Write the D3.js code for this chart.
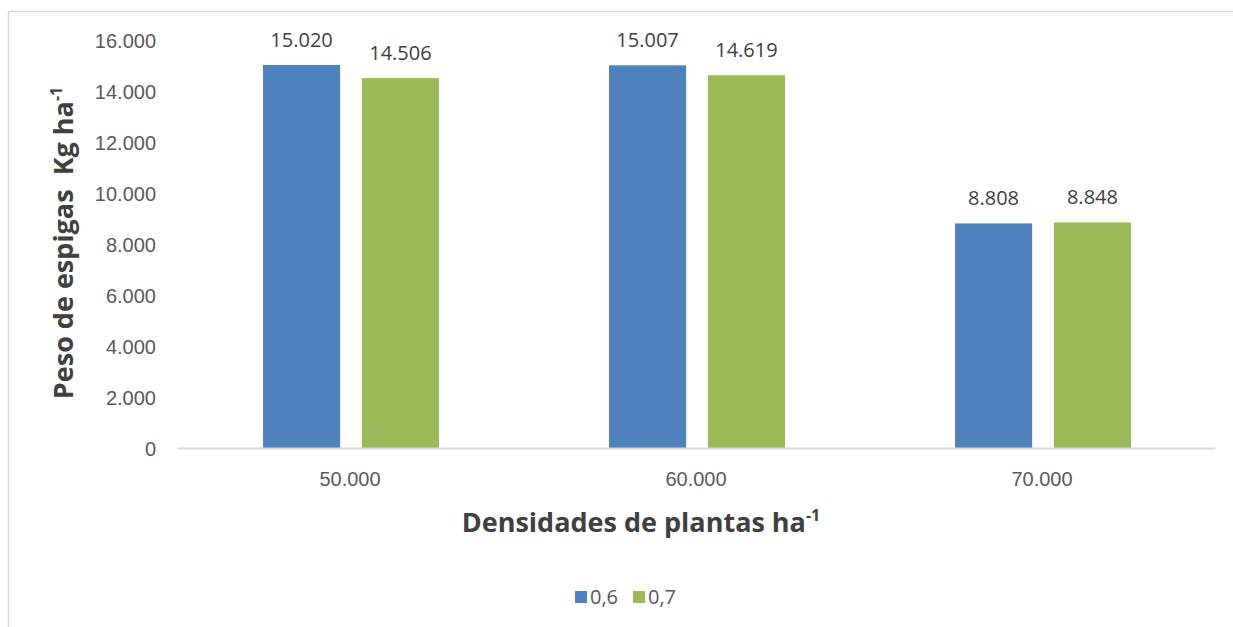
<!DOCTYPE html>
<html>
<head>
<meta charset="utf-8">
<script src="https://cdn.jsdelivr.net/npm/d3@7"></script>
<style>
  html, body { margin: 0; padding: 0; background: #fff; }
  svg { display: block; font-family: "Open Sans", "Noto Sans", sans-serif; }
</style>
</head>
<body>
<svg id="chart" width="1233" height="627"></svg>
<script>
// Plant densities (x categories) and spacing series
const categories = ["50.000", "60.000", "70.000"];
const seriesNames = ["0,6", "0,7"];
const values06 = [15020, 15007, 8808];
const values07 = [14506, 14619, 8848];
const yTicks = [0, 2000, 4000, 6000, 8000, 10000, 12000, 14000, 16000];
const colors = ["#4F81BD", "#9BBB59"];

const seriesValues = [values06, values07];
const rows = categories.map((c, i) => ({
  cat: c,
  vals: seriesNames.map((s, j) => ({ key: s, value: seriesValues[j][i], color: colors[j] }))
}));

const locale = d3.formatLocale({ decimal: ",", thousands: ".", grouping: [3], currency: ["", ""] });
const fmt = locale.format(",d");

const svg = d3.select("#chart");

// outer frame
svg.append("rect")
  .attr("x", 8.5).attr("y", 11.5)
  .attr("width", 1240).attr("height", 640)
  .attr("fill", "none").attr("stroke", "#d9d9d9").attr("stroke-width", 1.5);

const plot = { left: 177, right: 1215, top: 40, bottom: 448 };

const x0 = d3.scaleBand().domain(categories).range([plot.left, plot.right]).padding(0);
const x1 = d3.scaleBand().domain(seriesNames)
  .range([86, x0.bandwidth() - 84]).paddingInner(0.22).paddingOuter(0);
const y = d3.scaleLinear().domain([0, 16000]).range([plot.bottom, plot.top]);

// y tick labels
const yAxis = d3.axisLeft(y).tickValues(yTicks).tickFormat(d => fmt(d)).tickSize(0).tickPadding(0);
const gy = svg.append("g").attr("transform", `translate(156,0)`).call(yAxis);
gy.select(".domain").remove();
gy.selectAll("text")
  .attr("fill", "#595959").attr("font-size", 20).attr("dy", "0.35em");

// bars
const groups = svg.append("g").selectAll("g").data(rows).join("g")
  .attr("transform", d => `translate(${x0(d.cat)},0)`);

groups.selectAll("rect").data(d => d.vals).join("rect")
  .attr("x", d => x1(d.key))
  .attr("y", d => y(d.value))
  .attr("width", x1.bandwidth())
  .attr("height", d => y(0) - y(d.value))
  .attr("fill", d => d.color);

groups.selectAll("text.lbl").data(d => d.vals).join("text")
  .attr("class", "lbl")
  .attr("x", d => x1(d.key) + x1.bandwidth() / 2)
  .attr("y", d => y(d.value) - 25)
  .attr("dy", "0.35em")
  .attr("text-anchor", "middle")
  .attr("font-size", 20)
  .attr("fill", "#404040")
  .text(d => fmt(d.value));

// x axis
const xAxis = d3.axisBottom(x0).tickSize(0).tickPadding(0);
const gx = svg.append("g").attr("transform", `translate(0,${plot.bottom})`).call(xAxis);
gx.select(".domain").attr("stroke", "#d9d9d9").attr("stroke-width", 2);
gx.selectAll("text")
  .attr("fill", "#595959").attr("font-size", 20).attr("y", 31).attr("dy", "0.35em");

// axis titles
const xTitle = svg.append("text")
  .attr("x", 641).attr("y", 532)
  .attr("text-anchor", "middle")
  .attr("font-size", 27).attr("font-weight", "bold").attr("fill", "#404040");
xTitle.append("tspan").text("Densidades de plantas ha");
xTitle.append("tspan").attr("font-size", 16).attr("dy", -11).text("-1");

const yTitle = svg.append("text")
  .attr("transform", "translate(73,243) rotate(-90)")
  .attr("text-anchor", "middle")
  .attr("font-size", 27).attr("font-weight", "bold").attr("fill", "#404040")
  .attr("xml:space", "preserve");
yTitle.append("tspan").text("Peso de espigas\u00a0\u00a0Kg ha");
yTitle.append("tspan").attr("font-size", 16).attr("dy", -11).text("-1");

// legend
const legend = svg.append("g").attr("transform", "translate(575,597)");
const items = legend.selectAll("g").data(seriesNames).join("g")
  .attr("transform", (d, i) => `translate(${i * 58},0)`);
items.append("rect")
  .attr("x", 0).attr("y", -6).attr("width", 12).attr("height", 12)
  .attr("fill", (d, i) => colors[i]);
items.append("text")
  .attr("x", 15).attr("y", 0).attr("dy", "0.35em")
  .attr("font-size", 20).attr("fill", "#595959")
  .text(d => d);
</script>
</body>
</html>
